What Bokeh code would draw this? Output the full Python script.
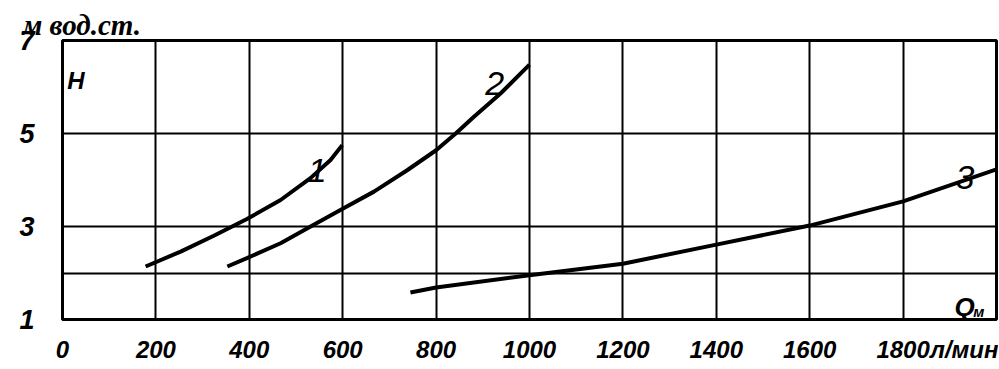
from bokeh.plotting import figure
from bokeh.models import Range1d, FixedTicker, Label, Title
from bokeh.embed import file_html
from bokeh.resources import INLINE

# Data
q1 = [178, 253, 324, 395, 467, 531, 574, 599]
h1 = [2.14, 2.46, 2.80, 3.16, 3.57, 4.04, 4.43, 4.75]

q2 = [353, 395, 467, 538, 600, 667, 738, 800, 842, 881, 938, 1000]
h2 = [2.14, 2.32, 2.64, 3.04, 3.38, 3.75, 4.21, 4.64, 5.0, 5.36, 5.86, 6.48]

q3 = [745, 800, 1000, 1200, 1400, 1600, 1800, 2000]
h3 = [1.58, 1.69, 1.95, 2.2, 2.61, 3.02, 3.54, 4.23]

x_ticks = [0, 200, 400, 600, 800, 1000, 1200, 1400, 1600, 1800]
x_tick_labels = ["0", "200", "400", "600", "800", "1000", "1200", "1400", "1600", "1800"]
x_unit = "л/мин"
x_unit_pos = 1936
x_grid = [0, 200, 400, 600, 800, 1000, 1200, 1400, 1600, 1800, 2000]
y_ticks = [1, 3, 5, 7]
y_grid = [1, 2, 3, 5, 7]
y_unit = "м вод.ст."

SANS = "Liberation Sans"
SERIF = "Liberation Serif"

p = figure(width=998, height=365, output_backend="svg", toolbar_location=None,
           x_range=Range1d(0, 2000), y_range=Range1d(1, 7),
           min_border_left=62, min_border_top=40, min_border_bottom=45, min_border_right=2)

p.title = Title(text=y_unit, align="left", offset=-40, standoff=0,
                text_font=SERIF, text_font_style="bold italic", text_font_size="29px",
                text_color="black")

p.background_fill_color = "white"
p.border_fill_color = "white"
p.outline_line_color = "black"
p.outline_line_width = 3

p.xgrid.ticker = FixedTicker(ticks=x_grid)
p.ygrid.ticker = FixedTicker(ticks=y_grid)
for g in (p.xgrid, p.ygrid):
    g.grid_line_color = "black"
    g.grid_line_width = 2
    g.grid_line_alpha = 1.0

p.xaxis.ticker = FixedTicker(ticks=x_ticks + [x_unit_pos])
overrides = {t: s for t, s in zip(x_ticks, x_tick_labels)}
overrides[x_unit_pos] = x_unit
p.xaxis.major_label_overrides = overrides
p.yaxis.ticker = FixedTicker(ticks=y_ticks)
for ax in (p.xaxis, p.yaxis):
    ax.axis_line_color = None
    ax.major_tick_line_color = None
    ax.minor_tick_line_color = None
    ax.major_label_text_font = SANS
    ax.major_label_text_font_style = "bold italic"
    ax.major_label_text_color = "black"
p.xaxis.major_label_text_font_size = "24px"
p.xaxis.major_label_standoff = 10
p.yaxis.major_label_text_font_size = "27px"
p.yaxis.major_label_standoff = 22

p.line(q1, h1, line_color="black", line_width=4)
p.line(q2, h2, line_color="black", line_width=4)
p.line(q3, h3, line_color="black", line_width=4)

def lab(x, y, t, size, font=SANS, style="bold italic", align="left"):
    p.add_layout(Label(x=x, y=y, text=t, text_font=font, text_font_style=style,
                       text_font_size=size, text_color="black", text_align=align,
                       text_baseline="alphabetic"))

lab(10, 6.14, "H", "24px")
lab(1910, 1.26, "Q", "26px")
lab(1950, 1.18, "м", "15px")
lab(525, 4.2, "1", "34px", style="italic")
lab(905, 6.08, "2", "34px", style="italic")
lab(1912, 4.06, "3", "34px", style="italic")

open("out.html", "w").write(file_html(p, INLINE))
